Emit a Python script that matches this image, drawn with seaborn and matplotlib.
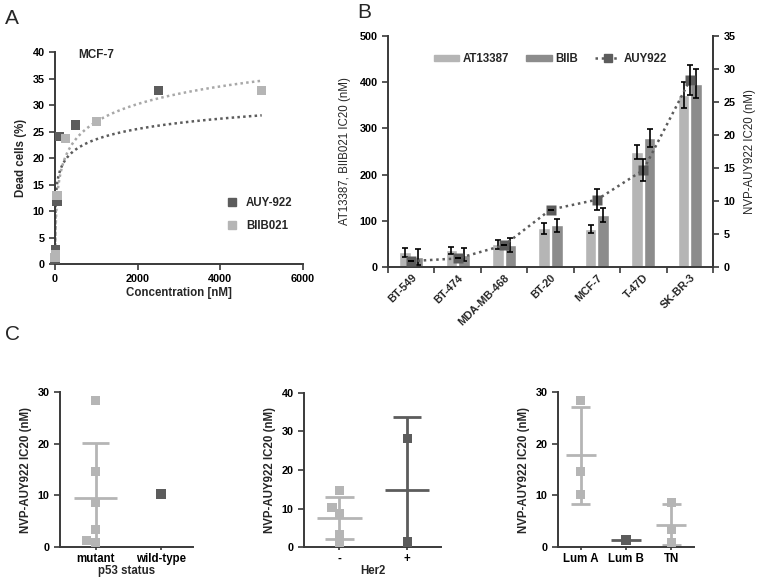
import numpy as np
import pandas as pd
import matplotlib
matplotlib.use("Agg")
import matplotlib.pyplot as plt
import seaborn as sns
from matplotlib.patches import Patch
from matplotlib.lines import Line2D

sns.set_theme(style="ticks")
plt.rcParams["font.family"] = ["Liberation Sans", "DejaVu Sans"]
plt.rcParams["font.weight"] = "bold"
plt.rcParams["axes.labelweight"] = "bold"

# --- Farben ---
light = "#b5b5b5"
mid = "#8c8c8c"
dark = "#5c5c5c"
spine_col = "#3a3a3a"

# --- Daten A: MCF-7 Dead cells ---
auy_conc = [1, 10, 50, 100, 500, 2500]
auy_dead = [0.8, 2.7, 11.8, 24.0, 26.2, 32.7]
biib_conc = [1, 10, 50, 250, 1000, 5000]
biib_dead = [1.2, 1.8, 12.9, 23.7, 26.9, 32.8]
# log-Trendlinien (y = a*ln(x) + b)
trend_a = [2.8, 4.8]
trend_b = [4.2, -6.3]

# --- Daten B: IC20 pro Zelllinie ---
cell_lines = ["BT-549", "BT-474", "MDA-MB-468", "BT-20", "MCF-7", "T-47D", "SK-BR-3"]
at13387 = [32, 36, 49, 84, 83, 249, 372]
at13387_err = [10, 8, 9, 12, 9, 15, 28]
biib = [22, 27, 47, 90, 113, 279, 397]
biib_err = [17, 14, 15, 15, 15, 20, 32]
auy922 = [0.9, 1.3, 3.3, 8.7, 10.2, 14.7, 28.3]
auy922_err = [0, 0, 0, 0, 1.6, 1.6, 2.3]

# --- Daten C: AUY922 IC20 nach Gruppen ---
p53_group = ["mutant"] * 6 + ["wild-type"]
p53_val = [28.3, 14.7, 8.7, 3.3, 1.3, 0.9, 10.2]
her2_group = ["-"] * 5 + ["+"] * 2
her2_val = [14.7, 10.2, 8.7, 3.3, 0.9, 28.3, 1.3]
sub_group = ["Lum A"] * 3 + ["Lum B"] + ["TN"] * 3
sub_val = [28.3, 14.7, 10.2, 1.3, 8.7, 3.3, 0.9]

fig = plt.figure(figsize=(7.57, 5.81), dpi=100)


def style_axis(ax, size=7.8):
    for s in ["left", "bottom", "right"]:
        ax.spines[s].set_color(spine_col)
        ax.spines[s].set_linewidth(1.4)
    ax.tick_params(colors=spine_col, width=1.2, length=4, labelsize=size,
                   labelcolor="black")
    for lab in ax.get_xticklabels() + ax.get_yticklabels():
        lab.set_fontweight("bold")


# ---------------- Panel A ----------------
axA = fig.add_axes([0.0727, 0.5456, 0.3276, 0.3649])
dfA = pd.DataFrame({
    "conc": auy_conc + biib_conc,
    "dead": auy_dead + biib_dead,
    "drug": ["AUY-922"] * len(auy_conc) + ["BIIB021"] * len(biib_conc),
})
xs = np.geomspace(1, 5000, 300)
for a, b, col in zip(trend_a, trend_b, [dark, "#a8a8a8"]):
    axA.plot(xs, a * np.log(xs) + b, ls=(0, (1, 1.3)), lw=1.8, color=col)
sns.scatterplot(data=dfA, x="conc", y="dead", hue="drug", marker="s", s=45,
                palette={"AUY-922": dark, "BIIB021": light}, edgecolor="none",
                ax=axA, clip_on=False, zorder=3)
axA.set_xlim(0, 6000)
axA.set_ylim(0, 40)
axA.set_xticks(range(0, 6001, 2000))
axA.set_yticks(range(0, 41, 5))
axA.set_xlabel("Concentration [nM]", fontsize=8.3, labelpad=2)
axA.set_ylabel("Dead cells (%)", fontsize=8.3, labelpad=4)
sns.despine(ax=axA)
style_axis(axA)
axA.text(0.093, 0.985, "MCF-7", transform=axA.transAxes, fontsize=8.5,
         fontweight="bold", ha="left", va="center")
hA = [Line2D([], [], marker="s", ls="none", color=dark, markersize=6),
      Line2D([], [], marker="s", ls="none", color=light, markersize=6)]
axA.legend(hA, ["AUY-922", "BIIB021"], loc="lower right", frameon=False,
           bbox_to_anchor=(1.0, 0.1), prop={"size": 8.3, "weight": "bold"},
           handletextpad=0.2, labelspacing=1.0)

# ---------------- Panel B ----------------
axB = fig.add_axes([0.5126, 0.5404, 0.4293, 0.3976])
dfB = pd.DataFrame({
    "line": cell_lines * 2,
    "ic20": at13387 + biib,
    "drug": ["AT13387"] * len(cell_lines) + ["BIIB"] * len(cell_lines),
})
sns.barplot(data=dfB, x="line", y="ic20", hue="drug", order=cell_lines,
            palette={"AT13387": light, "BIIB": mid}, errorbar=None,
            width=0.54, gap=0.08, ax=axB, legend=False, saturation=1)
pos = np.arange(len(cell_lines))
axB.errorbar(pos - 0.135, at13387, yerr=at13387_err, fmt="none", ecolor="black",
             elinewidth=1.2, capsize=2.5, capthick=1.2, zorder=4)
axB.errorbar(pos + 0.135, biib, yerr=biib_err, fmt="none", ecolor="black",
             elinewidth=1.2, capsize=2.5, capthick=1.2, zorder=4)
axB.set_xlim(-0.5, 6.5)
axB.set_ylim(0, 500)
axB.set_yticks(range(0, 501, 100))
axB.set_xticks(np.arange(-0.5, 7, 1), minor=False)
axB.set_xticklabels([])
axB.set_xticks(pos, minor=True)
axB.set_xticklabels(cell_lines, minor=True, rotation=45, ha="right",
                    rotation_mode="anchor", fontsize=7.8, fontweight="bold")
axB.tick_params(axis="x", which="minor", length=0, pad=4)
axB.set_xlabel("")
axB.set_ylabel("AT13387, BIIB021 IC20 (nM)", fontsize=8.3, fontweight="normal",
               labelpad=6)
axB.spines["top"].set_visible(False)
style_axis(axB)

axB2 = axB.twinx()
sns.lineplot(x=pos, y=auy922, ax=axB2, color=dark, marker="s", markersize=7,
             markeredgecolor="none", ls=(0, (1, 1.5)), lw=1.8, zorder=5)
axB2.errorbar(pos, auy922, yerr=auy922_err, fmt="none", ecolor="black",
              elinewidth=1.2, capsize=2.5, capthick=1.2, zorder=6)
axB2.set_ylim(0, 35)
axB2.set_yticks(range(0, 36, 5))
axB2.set_ylabel("NVP-AUY922 IC20 (nM)", fontsize=8.3, fontweight="normal",
                labelpad=6)
axB2.spines["top"].set_visible(False)
style_axis(axB2)
for s in ["left", "bottom"]:
    axB2.spines[s].set_visible(False)
hB = [Patch(color=light), Patch(color=mid),
      Line2D([], [], color=dark, marker="s", markersize=6, ls=(0, (1, 1.5)), lw=1.8)]
axB.legend(hB, ["AT13387", "BIIB", "AUY922"], loc="center",
           bbox_to_anchor=(0.5, 0.9), ncol=3, frameon=False,
           prop={"size": 8.3, "weight": "bold"}, handlelength=2.2,
           handleheight=0.5, columnspacing=1.5, handletextpad=0.3)

# ---------------- Panel C ----------------
panels_c = [
    ([0.0793, 0.0585, 0.1757, 0.2668], p53_group, p53_val, ["mutant", "wild-type"],
     {"mutant": light, "wild-type": dark}, (0, 30), 10, "p53 status", (-0.55, 1.5), False),
    ([0.4016, 0.0585, 0.1810, 0.2651], her2_group, her2_val, ["-", "+"],
     {"-": light, "+": dark}, (0, 40), 10, "Her2", (-0.52, 1.5), True),
    ([0.7371, 0.0585, 0.1797, 0.2668], sub_group, sub_val, ["Lum A", "Lum B", "TN"],
     {"Lum A": light, "Lum B": dark, "TN": light}, (0, 30), 10, "", (-0.5, 2.5), True),
]
for rect, grp, vals, order, pal, ylim, ystep, xlab, xlim, show_single in panels_c:
    ax = fig.add_axes(rect)
    df = pd.DataFrame({"grp": grp, "val": vals})
    sns.swarmplot(data=df, x="grp", y="val", hue="grp", order=order, palette=pal,
                  marker="s", size=6.5, linewidth=0, ax=ax, legend=False, zorder=3)
    stats = df.groupby("grp")["val"].agg(["mean", "std", "count"])
    for i, g in enumerate(order):
        m, sd, n = stats.loc[g, "mean"], stats.loc[g, "std"], stats.loc[g, "count"]
        col = pal[g]
        if n == 1 and not show_single:
            continue
        ax.hlines(m, i - 0.33, i + 0.33, color=col, lw=2, zorder=2)
        if n > 1:
            ax.vlines(i, m - sd, m + sd, color=col, lw=2, zorder=2)
            ax.hlines([m - sd, m + sd], i - 0.21, i + 0.21, color=col, lw=2, zorder=2)
    ax.set_xlim(*xlim)
    ax.set_ylim(*ylim)
    ax.set_yticks(range(ylim[0], ylim[1] + 1, ystep))
    ax.set_xlabel(xlab, fontsize=8.3, labelpad=0)
    ax.set_ylabel("NVP-AUY922 IC20 (nM)", fontsize=8.3, labelpad=4)
    sns.despine(ax=ax)
    style_axis(ax)
    ax.tick_params(axis="x", length=2, pad=2, labelsize=8.3)

# Panel-Buchstaben
fig.text(0.006, 0.985, "A", fontsize=15, fontweight="normal", va="top")
fig.text(0.472, 0.995, "B", fontsize=15, fontweight="normal", va="top")
fig.text(0.006, 0.44, "C", fontsize=15, fontweight="normal", va="top")

fig.savefig("out.png", dpi=100)
